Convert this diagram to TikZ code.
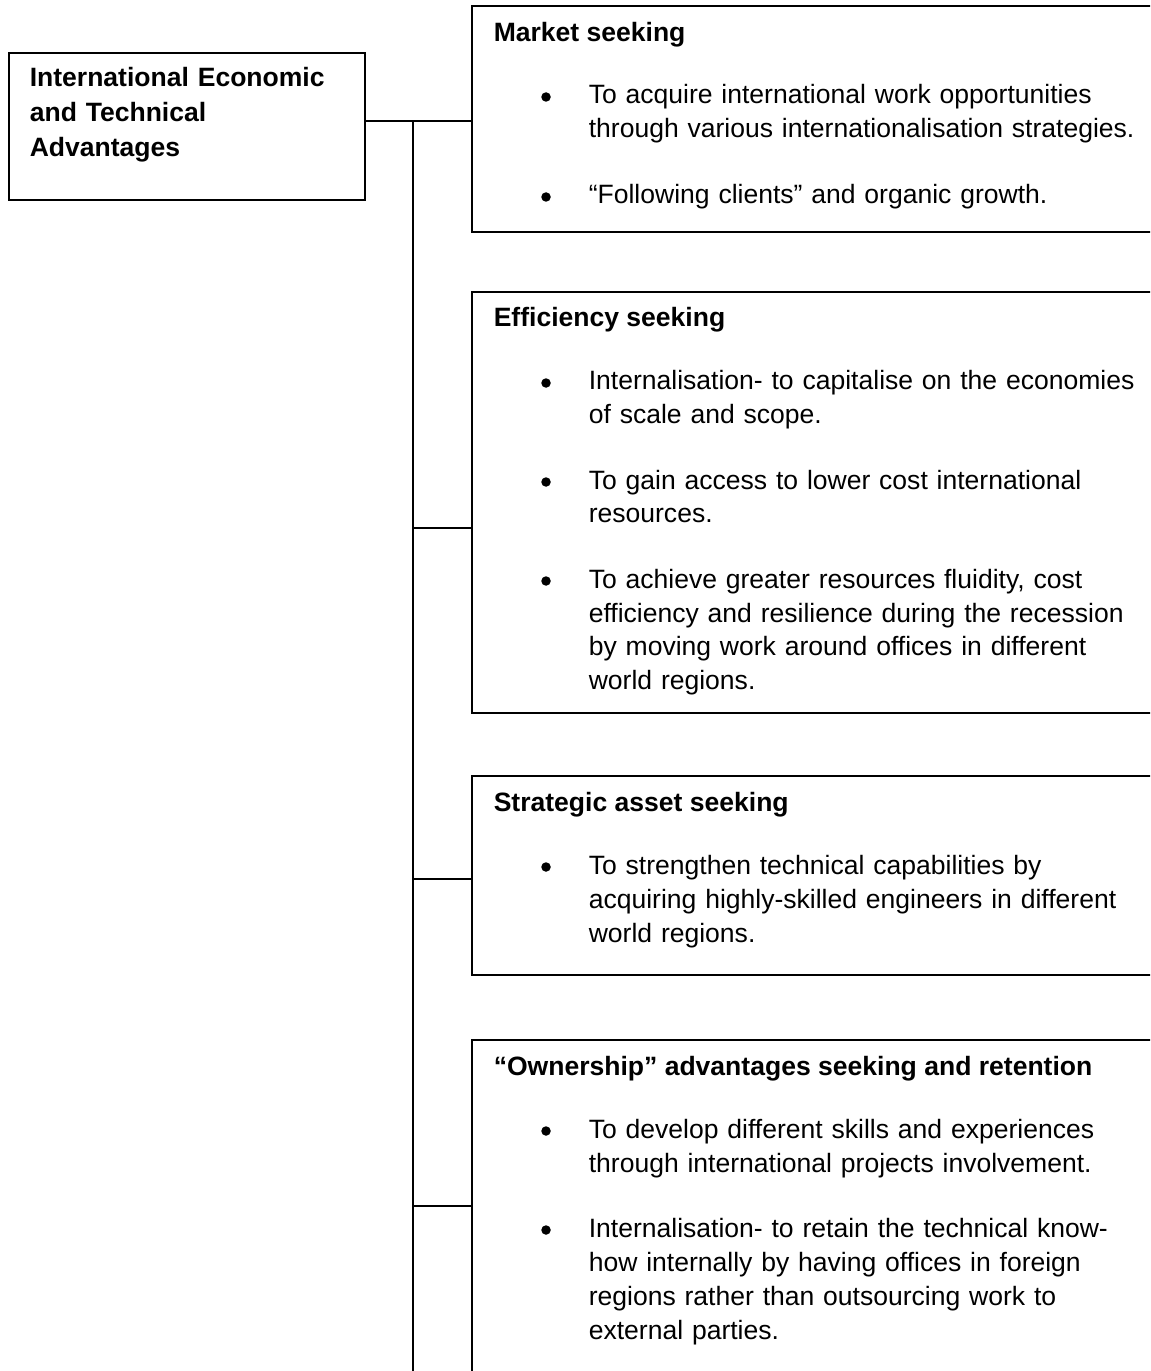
\documentclass[tikz,border=0pt]{standalone}
\usepackage{fontspec}
\setmainfont{Liberation Sans}

\begin{document}
\begin{tikzpicture}[x=0.02cm,y=-0.02cm,
                    line width=0.9pt,
                    box node/.style={rectangle,draw,anchor=north west,inner sep=0pt},
                    head node/.style={anchor=base west,inner sep=0pt,
                        font=\bfseries\fontsize{15.1pt}{19.9pt}\selectfont},
                    item node/.style={anchor=base west,inner sep=0pt,text width=12cm,align=left,
                        font=\fontsize{15.1pt}{19.35pt}\selectfont}]

        \useasboundingbox (0,0) rectangle (1150,1371);
        \clip (0,0) rectangle (1150,1371);

        % Define boxes
        \node[box node,minimum width=7.12cm,minimum height=2.94cm] (adv) at (8,52) {};
        \node[box node,minimum width=14cm,minimum height=4.51cm] (market) at (471,5.5) {};
        \node[box node,minimum width=14cm,minimum height=8.42cm] (efficiency) at (471,291) {};
        \node[box node,minimum width=14cm,minimum height=3.98cm] (strategic) at (471,775) {};
        \node[box node,minimum width=14cm,minimum height=8cm] (ownership) at (471,1039) {};

        % Define texts
        \node[head node,text width=7cm,align=left] (advtext) at (29,87)
            {International Economic\\and Technical\\Advantages};

        \node[head node] (markethead) at (493,42) {Market seeking};
        \node[item node] (market1) at (588,104)
            {To acquire international work opportunities\\through various internationalisation strategies.};
        \node[item node] (market2) at (588,204)
            {“Following clients” and organic growth.};

        \node[head node] (efficiencyhead) at (493,327) {Efficiency seeking};
        \node[item node] (efficiency1) at (588,390)
            {Internalisation- to capitalise on the economies\\of scale and scope.};
        \node[item node] (efficiency2) at (588,489)
            {To gain access to lower cost international\\resources.};
        \node[item node] (efficiency3) at (588,588)
            {To achieve greater resources fluidity, cost\\efficiency and resilience during the recession\\by moving work around offices in different\\world regions.};

        \node[head node] (strategichead) at (493,811) {Strategic asset seeking};
        \node[item node] (strategic1) at (588,874)
            {To strengthen technical capabilities by\\acquiring highly-skilled engineers in different\\world regions.};

        \node[head node] (ownershiphead) at (493,1075) {“Ownership” advantages seeking and retention};
        \node[item node] (ownership1) at (588,1138)
            {To develop different skills and experiences\\through international projects involvement.};
        \node[item node] (ownership2) at (588,1237)
            {Internalisation- to retain the technical know-\\how internally by having offices in foreign\\regions rather than outsourcing work to\\external parties.};

        % Bullets
        \foreach \item in {market1,market2,efficiency1,efficiency2,efficiency3,
                           strategic1,ownership1,ownership2}
            \fill ([xshift=-0.84cm,yshift=0.14cm]\item.base west) circle (0.095cm);

        % Define junctions on the trunk
        \coordinate (j1) at (413,121);
        \coordinate (j2) at (413,528);
        \coordinate (j3) at (413,879);
        \coordinate (j4) at (413,1206);
        \coordinate (jend) at (413,1380);

        % Draw edges
        \path[draw]
            (adv.east |- j1) -- (market.west |- j1)
            (j1) -- (jend)
            (j2) -- (efficiency.west |- j2)
            (j3) -- (strategic.west |- j3)
            (j4) -- (ownership.west |- j4);

        \end{tikzpicture}
\end{document}
